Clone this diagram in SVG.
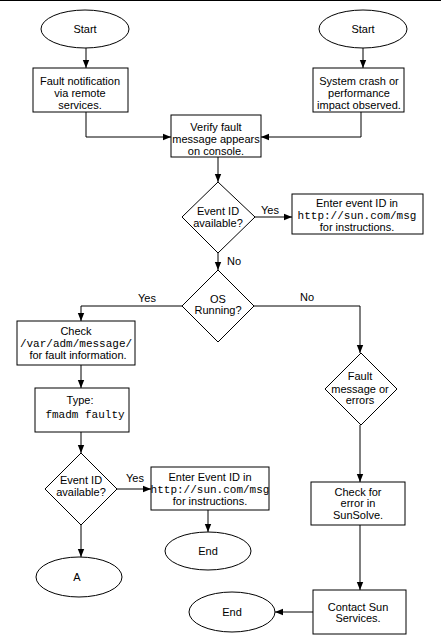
<svg xmlns="http://www.w3.org/2000/svg" width="441" height="636" viewBox="0 0 441 636">
<style>
.s{fill:#fff;stroke:#000;stroke-width:1}
.c{fill:none;stroke:#000;stroke-width:1}
text{font-family:"Liberation Sans",Arial,sans-serif;font-size:11px;fill:#000;text-anchor:middle}
.m{font-family:"Liberation Mono","Courier New",monospace;font-size:11px}
</style>
<defs>
<marker id="a" viewBox="0 0 8 8" refX="8" refY="4" markerWidth="8" markerHeight="8" markerUnits="userSpaceOnUse" orient="auto">
<path d="M0,0.8 L8,4 L0,7.2 Z" fill="#000"/>
</marker>
</defs>
<rect width="441" height="636" fill="#fff"/>
<line x1="0" y1="0.5" x2="441" y2="0.5" stroke="#000" stroke-width="1"/>
<g id="connectors">
<line class="c" x1="86" y1="48" x2="86" y2="68" marker-end="url(#a)"/>
<line class="c" x1="363" y1="47" x2="363" y2="68" marker-end="url(#a)"/>
<polyline class="c" points="86,112 86,137 171,137" marker-end="url(#a)"/>
<polyline class="c" points="361,112 361,137 261,137" marker-end="url(#a)"/>
<line class="c" x1="218" y1="157" x2="218" y2="182" marker-end="url(#a)"/>
<line class="c" x1="255" y1="217" x2="292" y2="217" marker-end="url(#a)"/>
<line class="c" x1="218" y1="253" x2="218" y2="270" marker-end="url(#a)"/>
<polyline class="c" points="182,306 81,306 81,321" marker-end="url(#a)"/>
<polyline class="c" points="254,306 360,306 360,353" marker-end="url(#a)"/>
<line class="c" x1="81" y1="365" x2="81" y2="388" marker-end="url(#a)"/>
<line class="c" x1="81" y1="432" x2="81" y2="453" marker-end="url(#a)"/>
<line class="c" x1="117" y1="489" x2="151" y2="489" marker-end="url(#a)"/>
<line class="c" x1="208" y1="510" x2="208" y2="532" marker-end="url(#a)"/>
<line class="c" x1="81" y1="525" x2="81" y2="557" marker-end="url(#a)"/>
<line class="c" x1="360" y1="425" x2="360" y2="482" marker-end="url(#a)"/>
<line class="c" x1="360" y1="525" x2="360" y2="590" marker-end="url(#a)"/>
<line class="c" x1="313" y1="612" x2="275" y2="612" marker-end="url(#a)"/>
<text x="270" y="214">Yes</text>
<text x="234" y="265">No</text>
<text x="147" y="302">Yes</text>
<text x="307" y="301">No</text>
<text x="135" y="482">Yes</text>
</g>
<g id="start1"><ellipse class="s" cx="85" cy="29" rx="44" ry="19"/><text x="85" y="33">Start</text></g>
<g id="start2"><ellipse class="s" cx="363" cy="29" rx="44" ry="19"/><text x="363" y="33">Start</text></g>
<g id="fault-notification"><rect class="s" x="33" y="68" width="95" height="44"/>
<text x="80" y="85">Fault notification</text><text x="80" y="97">via remote</text><text x="80" y="109">services.</text></g>
<g id="system-crash"><rect class="s" x="313" y="68" width="91" height="44"/>
<text x="359" y="85">System crash or</text><text x="359" y="97">performance</text><text x="359" y="109">impact observed.</text></g>
<g id="verify"><rect class="s" x="171" y="115" width="90" height="42"/>
<text x="216" y="131">Verify fault</text><text x="216" y="143">message appears</text><text x="216" y="155">on console.</text></g>
<g id="event1"><polygon class="s" points="218,182 255,217 218,253 182,217"/>
<text x="218" y="215">Event ID</text><text x="218" y="227">available?</text></g>
<g id="enter1"><rect class="s" x="292" y="194" width="131" height="40"/>
<text x="357" y="207">Enter event ID in</text><text class="m" x="357" y="219">http://sun.com/msg</text><text x="357" y="231">for instructions.</text></g>
<g id="os"><polygon class="s" points="218,270 254,306 218,342 182,306"/>
<text x="218" y="303">OS</text><text x="218" y="314">Running?</text></g>
<g id="check"><rect class="s" x="17" y="321" width="118" height="44"/>
<text x="76" y="335">Check</text><text class="m" x="76" y="347">/var/adm/message/</text><text x="78" y="359">for fault information.</text></g>
<g id="type"><rect class="s" x="35" y="388" width="94" height="44"/>
<text x="80" y="404">Type:</text><text class="m" x="85" y="418">fmadm faulty</text></g>
<g id="event2"><polygon class="s" points="81,453 117,489 81,525 45,489"/>
<text x="81" y="484">Event ID</text><text x="81" y="496">available?</text></g>
<g id="enter2"><rect class="s" x="151" y="467" width="118" height="43"/>
<text x="210" y="481">Enter Event ID in</text><text class="m" x="210" y="493">http://sun.com/msg</text><text x="210" y="505">for instructions.</text></g>
<g id="end1"><ellipse class="s" cx="208" cy="551" rx="43" ry="19"/><text x="208" y="555">End</text></g>
<g id="a-node"><ellipse class="s" cx="79" cy="577" rx="43" ry="20"/><text x="77" y="581">A</text></g>
<g id="fault-msg"><polygon class="s" points="361,353 397,389 361,425 325,389"/>
<text x="360" y="380">Fault</text><text x="360" y="393">message or</text><text x="360" y="404">errors</text></g>
<g id="sunsolve"><rect class="s" x="311" y="482" width="94" height="43"/>
<text x="358" y="496">Check for</text><text x="358" y="507">error in</text><text x="358" y="519">SunSolve.</text></g>
<g id="contact"><rect class="s" x="313" y="590" width="93" height="44"/>
<text x="358" y="611">Contact Sun</text><text x="358" y="622">Services.</text></g>
<g id="end2"><ellipse class="s" cx="232" cy="612" rx="43" ry="20"/><text x="232" y="616">End</text></g>
</svg>
